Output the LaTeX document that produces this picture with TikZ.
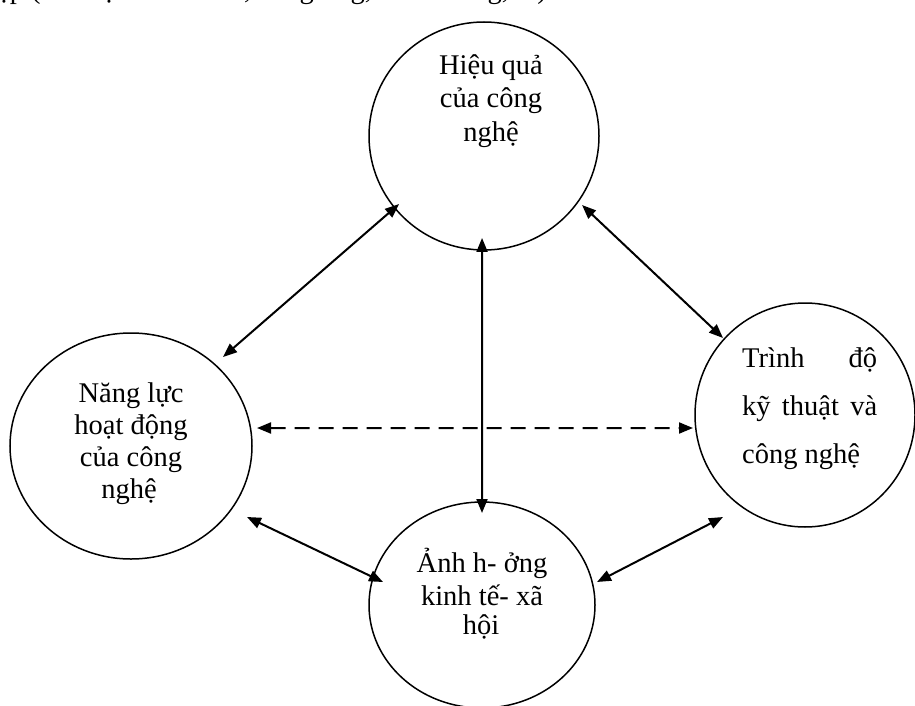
\documentclass[tikz,border=0pt]{standalone}
\usepackage{fontspec}
\setmainfont{Liberation Serif}
\usetikzlibrary{arrows.meta,shapes.geometric}
\begin{document}
\begin{tikzpicture}[x=1pt,y=1pt,
  bubble/.style={ellipse,draw,line width=1.5pt,inner sep=0pt},
  lbl/.style={inner sep=0pt,font=\fontsize{28.5}{33}\selectfont},
  link/.style={line width=2pt,{Triangle[length=14pt,width=11pt]}-{Triangle[length=14pt,width=11pt]}},
  dashlink/.style={link,dash pattern=on 15pt off 9pt}
]
\useasboundingbox (0,0) rectangle (915,-706);
% header line, cut off at the top
\node[lbl,anchor=base west] (hdr) at (-3,1) {ệp (kế hoạch sản xuất, cung ứng, bảo d- ỡng, ...).};
% circles
\node[bubble,minimum width=230pt,minimum height=228pt] (T) at (484,-136) {};
\node[bubble,minimum width=242pt,minimum height=226pt] (L) at (131,-446) {};
\node[bubble,minimum width=220pt,minimum height=224pt] (R) at (805,-415) {};
\node[bubble,minimum width=226pt,minimum height=206pt] (B) at (482,-605) {};
% labels
\node[lbl,anchor=base] (t1) at (491,-75) {Hiệu quả};
\node[lbl,anchor=base] (t2) at (491,-108) {của công};
\node[lbl,anchor=base] (t3) at (491,-141) {nghệ};
\node[lbl,anchor=base] (l1) at (131,-402) {Năng lực};
\node[lbl,anchor=base] (l2) at (131,-434) {hoạt động};
\node[lbl,anchor=base] (l3) at (131,-466) {của công};
\node[lbl,anchor=base] (l4) at (129,-498) {nghệ};
\node[lbl,anchor=base west] (r1) at (742,-367) {\makebox[135pt][s]{Trình độ}};
\node[lbl,anchor=base west] (r2) at (742,-415) {\makebox[135pt][s]{kỹ thuật và}};
\node[lbl,anchor=base west] (r3) at (742,-463) {công nghệ};
\node[lbl,anchor=base] (b1) at (482,-572) {Ảnh h- ởng};
\node[lbl,anchor=base] (b2) at (482,-605) {kinh tế- xã};
\node[lbl,anchor=base] (b3) at (481,-634) {hội};
% connectors
\draw[link] ([shift={(44.05:128pt)}]L.center) -- ([shift={(218.7:108.9pt)}]T.center);
\draw[link] ([shift={(324.85:119.9pt)}]T.center) -- ([shift={(136.8:112.5pt)}]R.center);
\draw[link] ([shift={(268.9:102pt)}]T.center) -- ([shift={(90:92pt)}]B.center);
\draw[dashlink] ([shift={(8.13:127.3pt)}]L.center) -- ([shift={(186.62:112.75pt)}]R.center);
\draw[link] ([shift={(328.53:136pt)}]L.center) -- ([shift={(166.92:101.6pt)}]B.center);
\draw[link] ([shift={(11.31:117.3pt)}]B.center) -- ([shift={(231.2:130.9pt)}]R.center);
\end{tikzpicture}
\end{document}
